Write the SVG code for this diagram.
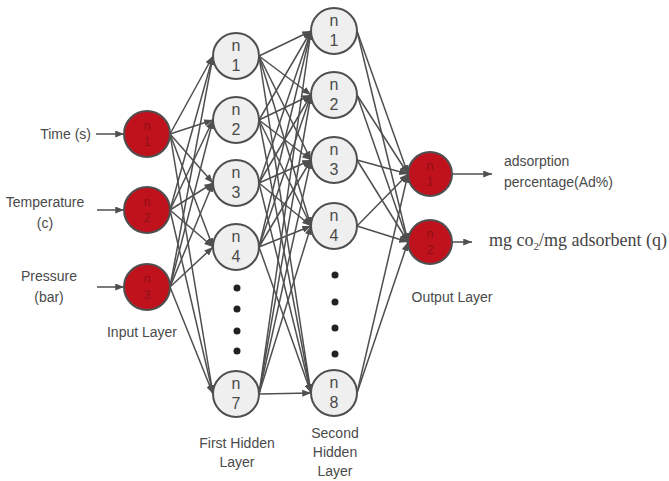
<svg xmlns="http://www.w3.org/2000/svg" width="669" height="481" viewBox="0 0 669 481">
<style>
.lbl{font-family:"Liberation Sans",Arial,sans-serif;font-size:14px;fill:#4a4a4a}
.nt{font-family:"Liberation Sans",Arial,sans-serif;font-size:16px;fill:#4a4a4a;text-anchor:middle}
.rt{font-family:"Liberation Sans",Arial,sans-serif;font-size:12px;fill:#8e0f16;text-anchor:middle}
.hid{fill:#efefef;stroke:#4f4f4f;stroke-width:2}
.red{fill:#c0121d;stroke:#4f4f4f;stroke-width:2}
.e{stroke:#4f4f4f;stroke-width:1.5;fill:none;marker-end:url(#ah)}
.dot{fill:#222}
</style>
<defs>
<marker id="ah" viewBox="0 0 10 8" refX="10" refY="4" markerWidth="9" markerHeight="7" markerUnits="userSpaceOnUse" orient="auto">
<path d="M0,0 L10,4 L0,8 z" fill="#4f4f4f"/>
</marker>
</defs>
<rect width="669" height="481" fill="#fff"/>
<g id="connectors">
<line class="e" x1="96" y1="134" x2="124" y2="134"/>
<line class="e" x1="97" y1="210" x2="124" y2="210"/>
<line class="e" x1="97" y1="287" x2="124" y2="287"/>
<line class="e" x1="170" y1="134" x2="213" y2="56"/>
<line class="e" x1="170" y1="134" x2="213" y2="120"/>
<line class="e" x1="170" y1="134" x2="213" y2="183"/>
<line class="e" x1="170" y1="134" x2="213" y2="247"/>
<line class="e" x1="170" y1="134" x2="213" y2="394"/>
<line class="e" x1="170" y1="210" x2="213" y2="56"/>
<line class="e" x1="170" y1="210" x2="213" y2="120"/>
<line class="e" x1="170" y1="210" x2="213" y2="183"/>
<line class="e" x1="170" y1="210" x2="213" y2="247"/>
<line class="e" x1="170" y1="210" x2="213" y2="394"/>
<line class="e" x1="170" y1="287" x2="213" y2="56"/>
<line class="e" x1="170" y1="287" x2="213" y2="120"/>
<line class="e" x1="170" y1="287" x2="213" y2="183"/>
<line class="e" x1="170" y1="287" x2="213" y2="247"/>
<line class="e" x1="170" y1="287" x2="213" y2="394"/>
<line class="e" x1="259" y1="56" x2="311" y2="31"/>
<line class="e" x1="259" y1="56" x2="311" y2="95"/>
<line class="e" x1="259" y1="56" x2="311" y2="160"/>
<line class="e" x1="259" y1="56" x2="311" y2="226"/>
<line class="e" x1="259" y1="56" x2="311" y2="393"/>
<line class="e" x1="259" y1="120" x2="311" y2="31"/>
<line class="e" x1="259" y1="120" x2="311" y2="95"/>
<line class="e" x1="259" y1="120" x2="311" y2="160"/>
<line class="e" x1="259" y1="120" x2="311" y2="226"/>
<line class="e" x1="259" y1="120" x2="311" y2="393"/>
<line class="e" x1="259" y1="183" x2="311" y2="31"/>
<line class="e" x1="259" y1="183" x2="311" y2="95"/>
<line class="e" x1="259" y1="183" x2="311" y2="160"/>
<line class="e" x1="259" y1="183" x2="311" y2="226"/>
<line class="e" x1="259" y1="183" x2="311" y2="393"/>
<line class="e" x1="259" y1="247" x2="311" y2="31"/>
<line class="e" x1="259" y1="247" x2="311" y2="95"/>
<line class="e" x1="259" y1="247" x2="311" y2="160"/>
<line class="e" x1="259" y1="247" x2="311" y2="226"/>
<line class="e" x1="259" y1="247" x2="311" y2="393"/>
<line class="e" x1="259" y1="394" x2="311" y2="31"/>
<line class="e" x1="259" y1="394" x2="311" y2="95"/>
<line class="e" x1="259" y1="394" x2="311" y2="160"/>
<line class="e" x1="259" y1="394" x2="311" y2="226"/>
<line class="e" x1="259" y1="394" x2="311" y2="393"/>
<line class="e" x1="357" y1="31" x2="408" y2="174"/>
<line class="e" x1="357" y1="31" x2="408" y2="242"/>
<line class="e" x1="357" y1="95" x2="408" y2="174"/>
<line class="e" x1="357" y1="95" x2="408" y2="242"/>
<line class="e" x1="357" y1="160" x2="408" y2="174"/>
<line class="e" x1="357" y1="160" x2="408" y2="242"/>
<line class="e" x1="357" y1="226" x2="408" y2="174"/>
<line class="e" x1="357" y1="226" x2="408" y2="242"/>
<line class="e" x1="357" y1="393" x2="408" y2="174"/>
<line class="e" x1="357" y1="393" x2="408" y2="242"/>
<line class="e" x1="452" y1="174" x2="492" y2="174"/>
<line class="e" x1="452" y1="242" x2="472" y2="242"/>
</g>
<g id="in1"><circle class="red" cx="147" cy="134" r="23"/><text class="rt" x="147" y="130">n</text><text class="rt" x="147" y="146">1</text></g>
<g id="in2"><circle class="red" cx="147" cy="210" r="23"/><text class="rt" x="147" y="206">n</text><text class="rt" x="147" y="222">2</text></g>
<g id="in3"><circle class="red" cx="147" cy="287" r="23"/><text class="rt" x="147" y="283">n</text><text class="rt" x="147" y="299">3</text></g>
<g id="h1n1"><circle class="hid" cx="236" cy="56" r="23"/><text class="nt" x="236" y="51">n</text><text class="nt" x="236" y="71">1</text></g>
<g id="h1n2"><circle class="hid" cx="236" cy="120" r="23"/><text class="nt" x="236" y="115">n</text><text class="nt" x="236" y="135">2</text></g>
<g id="h1n3"><circle class="hid" cx="236" cy="183" r="23"/><text class="nt" x="236" y="178">n</text><text class="nt" x="236" y="198">3</text></g>
<g id="h1n4"><circle class="hid" cx="236" cy="247" r="23"/><text class="nt" x="236" y="242">n</text><text class="nt" x="236" y="262">4</text></g>
<g id="h1n7"><circle class="hid" cx="236" cy="394" r="23"/><text class="nt" x="236" y="389">n</text><text class="nt" x="236" y="409">7</text></g>
<g id="h2n1"><circle class="hid" cx="334" cy="31" r="23"/><text class="nt" x="334" y="26">n</text><text class="nt" x="334" y="46">1</text></g>
<g id="h2n2"><circle class="hid" cx="334" cy="95" r="23"/><text class="nt" x="334" y="90">n</text><text class="nt" x="334" y="110">2</text></g>
<g id="h2n3"><circle class="hid" cx="334" cy="160" r="23"/><text class="nt" x="334" y="155">n</text><text class="nt" x="334" y="175">3</text></g>
<g id="h2n4"><circle class="hid" cx="334" cy="226" r="23"/><text class="nt" x="334" y="221">n</text><text class="nt" x="334" y="241">4</text></g>
<g id="h2n8"><circle class="hid" cx="334" cy="393" r="23"/><text class="nt" x="334" y="388">n</text><text class="nt" x="334" y="408">8</text></g>
<g id="out1"><circle class="red" cx="430" cy="174" r="22"/><text class="rt" x="430" y="170">n</text><text class="rt" x="430" y="186">1</text></g>
<g id="out2"><circle class="red" cx="430" cy="242" r="22"/><text class="rt" x="430" y="238">n</text><text class="rt" x="430" y="254">2</text></g>
<g id="dots">
<circle class="dot" cx="237" cy="288" r="3.5"/><circle class="dot" cx="237" cy="309" r="3.5"/><circle class="dot" cx="237" cy="331" r="3.5"/><circle class="dot" cx="237" cy="351" r="3.5"/>
<circle class="dot" cx="335" cy="275" r="3.5"/><circle class="dot" cx="335" cy="302" r="3.5"/><circle class="dot" cx="335" cy="328" r="3.5"/><circle class="dot" cx="335" cy="354" r="3.5"/>
</g>
<g id="labels">
<text class="lbl" x="91" y="139" text-anchor="end">Time (s)</text>
<text class="lbl" x="45" y="207" text-anchor="middle">Temperature</text>
<text class="lbl" x="45" y="228" text-anchor="middle">(c)</text>
<text class="lbl" x="49" y="281" text-anchor="middle">Pressure</text>
<text class="lbl" x="49" y="302" text-anchor="middle">(bar)</text>
<text class="lbl" x="142" y="337" text-anchor="middle">Input Layer</text>
<text class="lbl" x="237" y="448" text-anchor="middle">First Hidden</text>
<text class="lbl" x="237" y="467" text-anchor="middle">Layer</text>
<text class="lbl" x="335" y="438" text-anchor="middle">Second</text>
<text class="lbl" x="335" y="457" text-anchor="middle">Hidden</text>
<text class="lbl" x="335" y="476" text-anchor="middle">Layer</text>
<text class="lbl" x="452" y="302" text-anchor="middle">Output Layer</text>
<text class="lbl" x="504" y="166">adsorption</text>
<text class="lbl" x="504" y="187">percentage(Ad%)</text>
<text x="489" y="246" style="font-family:'Liberation Serif','Times New Roman',serif;font-size:18px;fill:#444">mg co<tspan font-size="11" dy="4">2</tspan><tspan dy="-4">/mg adsorbent (q)</tspan></text>
</g>
</svg>
